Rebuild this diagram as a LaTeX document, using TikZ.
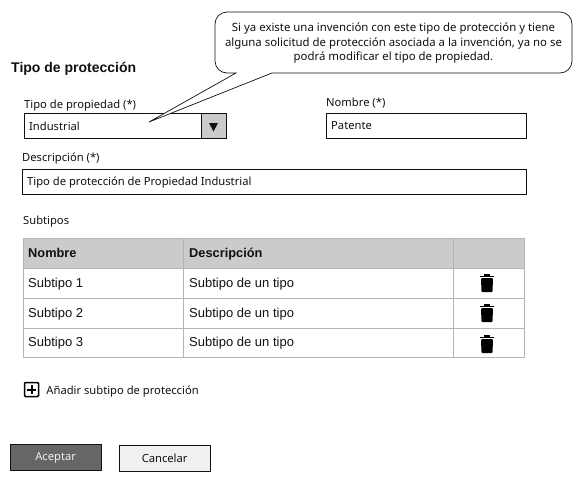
\documentclass[tikz,border=0pt]{standalone}
\usepackage{fontspec}
\setmainfont{Noto Sans}
\newfontfamily\tablefont{Liberation Sans}
\usetikzlibrary{positioning}
\definecolor{ink}{HTML}{111111}
\definecolor{rule}{HTML}{B5B5B5}
\definecolor{headgray}{HTML}{CBCBCB}
\definecolor{btndark}{HTML}{666666}
\definecolor{btnlight}{HTML}{F0F0F0}
\tikzset{
  field/.style={draw=ink, line width=0.9pt, fill=white, anchor=north west, inner sep=0pt},
  txt/.style={font=\fontsize{11.2}{13}\selectfont, text=ink, anchor=west, inner sep=0pt, text height=12pt, text depth=2.5pt},
  celltxt/.style={font=\tablefont\fontsize{13}{15}\selectfont, text=ink, anchor=west, inner sep=0pt, text height=11pt, text depth=3pt},
  headtxt/.style={celltxt, font=\tablefont\bfseries\fontsize{12.8}{15}\selectfont},
  button/.style={draw=ink, line width=0.8pt, anchor=north west, inner sep=0pt, minimum width=90.5pt, minimum height=26pt, font=\fontsize{11.2}{13}\selectfont},
  trash/.pic={
    \fill[black, rounded corners=1pt] (-6,-5) -- (6,-5) -- (5.5,9) -- (-5.5,9) -- cycle;
    \fill[black] (-7,-7.5) rectangle (7,-5.8);
    \fill[black] (-3,-9) rectangle (3,-7);
  }
}
\begin{document}
\begin{tikzpicture}[x=1pt,y=-1pt]
\useasboundingbox (0,0) rectangle (578,480);
\node[txt, font=\tablefont\bfseries\fontsize{14}{16}\selectfont] (titulo) at (11,68) {Tipo de protección};
% campos
\node[txt] (lprop) at (24,104) {Tipo de propiedad (*)};
\node[field, minimum width=201pt, minimum height=25pt] (prop) at (24,113) {};
\node[field, fill=headgray, minimum width=24.5pt, minimum height=25pt] (flecha) at (201,113) {};
\fill[ink] (209,123) -- (218,123) -- (213.5,131.5) -- cycle;
\node[txt] (vprop) at (29,126) {Industrial};
\node[txt] (lnombre) at (326,102) {Nombre (*)};
\node[field, minimum width=200pt, minimum height=25pt] (nombre) at (326,113) {};
\node[txt] (vnombre) at (331,124.5) {Patente};
\node[txt] (ldesc) at (22,157) {Descripción (*)};
\node[field, minimum width=504pt, minimum height=25pt] (desc) at (22,169) {};
\node[txt] (vdesc) at (27,181) {Tipo de protección de Propiedad Industrial};
\node[txt] (lsub) at (23,220) {Subtipos};
% nota
\draw[ink, line width=0.7pt, fill=white, rounded corners=12pt] (215,12) -- (572,12) -- (572,73)
  [sharp corners] -- (272,73) -- (149,122) -- (236,73) [rounded corners=12pt] -- (215,73) -- cycle;
\node[font=\fontsize{11.4}{14.5}\selectfont, text=ink, align=center, inner sep=0pt] (nota) at (393.5,43) {Si ya existe una invención con este tipo de protección y tiene\\alguna solicitud de protección asociada a la invención, ya no se\\podrá modificar el tipo de propiedad.};
% tabla
\fill[headgray] (23,238) rectangle (524.5,268);
\draw[rule, line width=0.9pt] (23,238) rectangle (524.5,357);
\foreach \y in {268,298,328} {\draw[rule, line width=0.9pt] (23,\y) -- (524.5,\y);}
\foreach \x in {183.5,453.5} {\draw[rule, line width=0.9pt] (\x,238) -- (\x,357);}
\node[headtxt] (hnombre) at (28,253) {Nombre};
\node[headtxt] (hdesc) at (189,253) {Descripción};
\foreach \i/\y/\t in {1/283/283,2/313/313,3/342/344} {
  \node[celltxt] (sub\i) at (28,\y) {Subtipo \i};
  \node[celltxt] (dsub\i) at (189,\y) {Subtipo de un tipo};
  \pic at (487,\t) {trash};
}
% acciones
\node[draw=black, line width=1.5pt, rounded corners=1pt, minimum size=14pt, inner sep=0pt] (mas) at (31.5,389.5) {};
\draw[black, line width=2pt] (mas.center) ++(-4.5,0) -- ++(9,0);
\draw[black, line width=2pt] (mas.center) ++(0,-4.5) -- ++(0,9);
\node[txt, right=7pt of mas] (lmas) {Añadir subtipo de protección};
\node[button, fill=btndark, text=btnlight] (aceptar) at (10,444) {Aceptar};
\node[button, fill=btnlight, text=ink] (cancelar) at (119,445) {Cancelar};
\end{tikzpicture}
\end{document}
